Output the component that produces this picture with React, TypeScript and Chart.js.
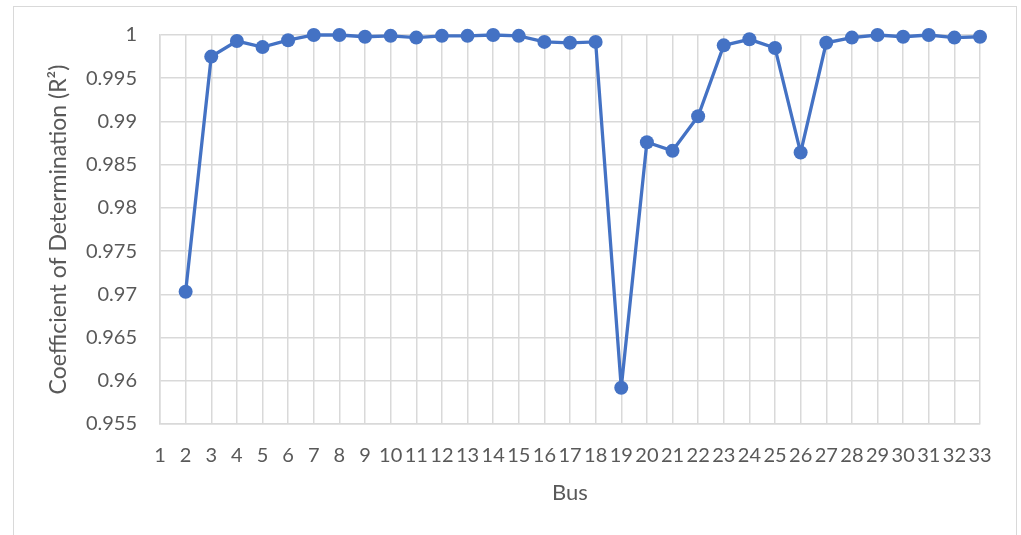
import React, { useEffect, useRef } from "react";
import { Chart, registerables } from "chart.js";

Chart.register(...registerables);

const busLabels: string[] = [
  "1", "2", "3", "4", "5", "6", "7", "8", "9", "10", "11",
  "12", "13", "14", "15", "16", "17", "18", "19", "20", "21", "22",
  "23", "24", "25", "26", "27", "28", "29", "30", "31", "32", "33",
];

const r2Values: (number | null)[] = [
  null, 0.9703, 0.9975, 0.9993, 0.9986, 0.9994, 1.0, 1.0, 0.9998, 0.9999, 0.9997,
  0.9999, 0.9999, 1.0, 0.9999, 0.9992, 0.9991, 0.9992, 0.9592, 0.9876, 0.9866, 0.9906,
  0.9988, 0.9995, 0.9985, 0.9864, 0.9991, 0.9997, 1.0, 0.9998, 1.0, 0.9997, 0.9998,
];

const yMin = 0.955;
const yMax = 1;
const yStep = 0.005;

const xTitle = "Bus";
const yTitle = "Coefficient of Determination (R\u00B2)";

export default function App() {
  const canvasRef = useRef<HTMLCanvasElement | null>(null);

  useEffect(() => {
    if (!canvasRef.current) return;
    const gridColor = "#d9d9d9";
    const textColor = "#595959";
    const fontFamily = "Lato, 'Open Sans', sans-serif";
    const chart = new Chart(canvasRef.current, {
      type: "line",
      data: {
        labels: busLabels,
        datasets: [
          {
            label: "R2",
            data: r2Values,
            borderColor: "#4472C4",
            backgroundColor: "#4472C4",
            borderWidth: 3.3,
            pointRadius: 7,
            pointHoverRadius: 7,
            pointBackgroundColor: "#4472C4",
            pointBorderColor: "#4472C4",
            pointBorderWidth: 0,
            tension: 0,
            clip: false as any,
            spanGaps: false,
          },
        ],
      },
      options: {
        responsive: false,
        animation: false,
        layout: { padding: { left: 0, top: 35, right: 41, bottom: 0 } },
        plugins: {
          legend: { display: false },
          tooltip: { enabled: false },
        },
        scales: {
          x: {
            type: "category",
            offset: false,
            grid: {
              offset: false,
              color: gridColor,
              lineWidth: 1.5,
              drawTicks: false,
            },
            border: { display: true, color: gridColor, width: 1.5 },
            ticks: {
              autoSkip: false,
              maxRotation: 0,
              minRotation: 0,
              padding: 20,
              color: textColor,
              font: { family: fontFamily, size: 20 },
            },
            title: {
              display: true,
              text: xTitle,
              color: textColor,
              font: { family: fontFamily, size: 22 },
              padding: { top: 0, bottom: 29 },
            },
            afterFit: (scale: any) => {
              scale.height = 111;
            },
          },
          y: {
            type: "linear",
            min: yMin,
            max: yMax,
            grid: {
              color: gridColor,
              lineWidth: 1.5,
              drawTicks: false,
            },
            border: { display: true, color: gridColor, width: 1.5 },
            ticks: {
              stepSize: yStep,
              padding: 23,
              color: textColor,
              font: { family: fontFamily, size: 20 },
              callback: (v: any) => String(Number(Number(v).toFixed(3))),
            },
            title: {
              display: true,
              text: yTitle,
              color: textColor,
              font: { family: fontFamily, size: 23 },
              padding: { top: 45, bottom: 0 },
            },
            afterFit: (scale: any) => {
              scale.width = 160;
            },
          },
        },
      },
    });
    return () => chart.destroy();
  }, []);

  return (
    <div style={{ position: "absolute", left: 0, top: 0, width: 1021, height: 535, overflow: "hidden", background: "#fff" }}>
      <div
        style={{
          position: "absolute",
          left: 13,
          top: 6,
          width: 1004,
          height: 560,
          border: "1.5px solid #d9d9d9",
          boxSizing: "border-box",
        }}
      />
      <canvas
        ref={canvasRef}
        width={1021}
        height={535}
        style={{ position: "absolute", left: 0, top: 0, display: "block" }}
      />
    </div>
  );
}
